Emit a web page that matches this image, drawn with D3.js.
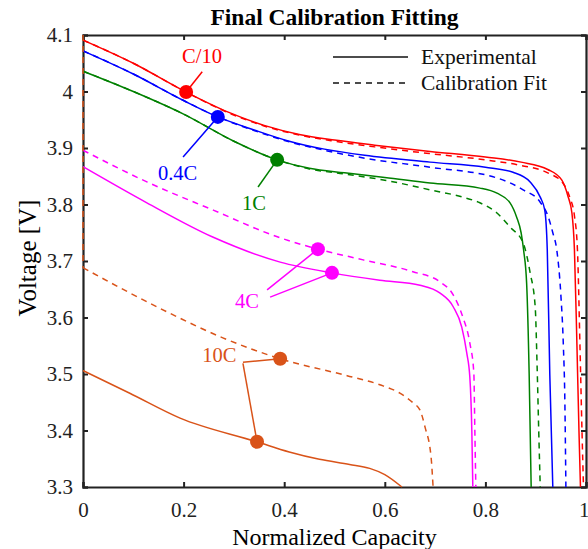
<!DOCTYPE html>
<html>
<head>
<meta charset="utf-8">
<script src="https://cdn.jsdelivr.net/npm/d3@7"></script>
<style>
  html, body { margin: 0; padding: 0; background: #fff; }
  text { font-family: "Liberation Serif", "Times New Roman", serif; }
</style>
</head>
<body>
<div id="chart"></div>
<script>
// ---- data: [normalized capacity, voltage]
const xTicks = [0, 0.2, 0.4, 0.6, 0.8, 1];
const yTicks = [3.3, 3.4, 3.5, 3.6, 3.7, 3.8, 3.9, 4.0, 4.1];

const c10Exp = [[0,4.091],[0.1,4.050],[0.205,3.999],[0.29,3.963],[0.36,3.940],[0.43,3.924],[0.5,3.914],[0.58,3.905],[0.69,3.894],[0.8,3.884],[0.871,3.875],[0.924,3.862],[0.952,3.843],[0.964,3.815],[0.972,3.785],[0.977,3.72],[0.982,3.55],[0.986,3.4],[0.989,3.3]];
const c10Fit = [[0,4.091],[0.1,4.050],[0.205,3.999],[0.29,3.962],[0.36,3.939],[0.43,3.923],[0.5,3.912],[0.58,3.902],[0.69,3.89],[0.8,3.879],[0.871,3.869],[0.924,3.856],[0.954,3.838],[0.968,3.812],[0.977,3.78],[0.983,3.72],[0.988,3.55],[0.992,3.4],[0.995,3.3]];
const c04Exp = [[0,4.072],[0.1,4.031],[0.2,3.984],[0.268,3.955],[0.34,3.932],[0.41,3.912],[0.48,3.898],[0.56,3.887],[0.69,3.875],[0.8,3.866],[0.855,3.857],[0.889,3.840],[0.909,3.813],[0.918,3.79],[0.923,3.72],[0.928,3.5],[0.934,3.3]];
const c04Fit = [[0,4.072],[0.1,4.031],[0.2,3.984],[0.268,3.955],[0.34,3.931],[0.41,3.911],[0.48,3.896],[0.56,3.882],[0.69,3.866],[0.823,3.847],[0.875,3.826],[0.909,3.804],[0.925,3.778],[0.934,3.75],[0.942,3.719],[0.95,3.64],[0.955,3.55],[0.958,3.45],[0.96,3.3]];
const c1Exp = [[0,4.036],[0.1,4.0],[0.2,3.96],[0.3,3.912],[0.386,3.879],[0.45,3.864],[0.52,3.856],[0.6,3.848],[0.69,3.838],[0.789,3.829],[0.823,3.82],[0.849,3.803],[0.862,3.778],[0.871,3.75],[0.876,3.719],[0.882,3.66],[0.887,3.5],[0.891,3.3]];
const c1Fit = [[0,4.036],[0.1,4.0],[0.2,3.96],[0.3,3.912],[0.386,3.879],[0.45,3.863],[0.52,3.854],[0.6,3.843],[0.69,3.826],[0.755,3.813],[0.789,3.803],[0.823,3.785],[0.849,3.76],[0.875,3.732],[0.889,3.679],[0.899,3.619],[0.903,3.507],[0.906,3.4],[0.909,3.3]];
const c4Exp = [[0,3.867],[0.127,3.803],[0.259,3.742],[0.392,3.698],[0.495,3.679],[0.59,3.666],[0.67,3.657],[0.71,3.643],[0.736,3.619],[0.753,3.583],[0.763,3.537],[0.769,3.495],[0.773,3.4],[0.775,3.3]];
const c4Fit = [[0,3.896],[0.127,3.84],[0.259,3.79],[0.392,3.741],[0.467,3.721],[0.557,3.702],[0.656,3.681],[0.71,3.663],[0.736,3.64],[0.755,3.601],[0.769,3.555],[0.777,3.502],[0.779,3.4],[0.781,3.3]];
const c10CExp = [[0,3.506],[0.093,3.466],[0.193,3.422],[0.346,3.38],[0.41,3.362],[0.47,3.349],[0.53,3.34],[0.57,3.333],[0.6,3.322],[0.634,3.3]];
// the fit starts with a drop along the y axis
const c10CFit = [[0,4.1],[0,3.688],[0.167,3.61],[0.278,3.564],[0.392,3.527],[0.525,3.497],[0.59,3.481],[0.63,3.466],[0.656,3.449],[0.67,3.436],[0.68,3.406],[0.692,3.353],[0.696,3.3]];

const series = [
  { rate: 'C/10', color: '#ff0000', exp: c10Exp, fit: c10Fit },
  { rate: '0.4C', color: '#0000ff', exp: c04Exp, fit: c04Fit },
  { rate: '1C', color: '#008000', exp: c1Exp, fit: c1Fit },
  { rate: '4C', color: '#ff00ff', exp: c4Exp, fit: c4Fit },
  { rate: '10C', color: '#d95319', exp: c10CExp, fit: c10CFit }
];

// marker points and label anchors, in [capacity, voltage]
const markers = [
  { color: '#ff0000', pts: [[0.205,3.999]], label: 'C/10', at: [0.197,4.05], from: [[0.237,4.035]] },
  { color: '#0000ff', pts: [[0.268,3.955]], label: '0.4C', at: [0.149,3.843], from: [[0.199,3.884]] },
  { color: '#008000', pts: [[0.386,3.879]], label: '1C', at: [0.316,3.79], from: [[0.348,3.831]] },
  { color: '#ff00ff', pts: [[0.467,3.721],[0.495,3.679]], label: '4C', at: [0.302,3.617], from: [[0.366,3.649],[0.372,3.636]] },
  { color: '#d95319', pts: [[0.392,3.527],[0.346,3.38]], label: '10C', at: [0.237,3.521], from: [[0.318,3.521],[0.318,3.519]] }
];

const totalWidth = 588, totalHeight = 549;
const margin = {top: 35, right: 2, bottom: 62, left: 83};
const width = totalWidth - margin.left - margin.right,
      height = totalHeight - margin.top - margin.bottom;

const svg = d3.select('#chart').append('svg')
  .attr('width', totalWidth)
  .attr('height', totalHeight);

const g = svg.append('g')
  .attr('transform', `translate(${margin.left}, ${margin.top})`);

const x = d3.scaleLinear().domain([0, 1]).range([0, width]);
const y = d3.scaleLinear().domain([3.3, 4.1]).range([height, 0]);

// axes, ticks pointing inward on all four sides
const fmt = d => String(+d.toFixed(1));
g.append('g').attr('class', 'x-axis').attr('transform', `translate(0, ${height})`)
  .call(d3.axisBottom(x).tickValues(xTicks).tickFormat(fmt).tickSize(-5).tickPadding(15));
g.append('g')
  .call(d3.axisLeft(y).tickValues(yTicks).tickFormat(fmt).tickSize(-5).tickPadding(10));
g.append('g')
  .call(d3.axisTop(x).tickValues(xTicks).tickFormat('').tickSize(-5));
g.append('g').attr('transform', `translate(${width}, 0)`)
  .call(d3.axisRight(y).tickValues(yTicks).tickFormat('').tickSize(-5));

g.selectAll('.domain').attr('stroke', '#222').attr('stroke-width', 2.2);
g.selectAll('.tick line').attr('stroke', '#222').attr('stroke-width', 2);
g.selectAll('.tick text').attr('fill', '#222').style('font-size', '21px')
  .style('font-family', '"Liberation Serif", serif');
// the last x label sits at the window edge; keep it inside
g.selectAll('.x-axis .tick text').filter(d => d === 1)
  .attr('text-anchor', 'end').attr('dx', 3);

// curves: smooth monotone lines, a straight piece where x repeats
const smooth = d3.line()
  .x(d => x(d[0]))
  .y(d => y(d[1]))
  .curve(d3.curveMonotoneX);
const straight = d3.line()
  .x(d => x(d[0]))
  .y(d => y(d[1]));

function drawCurve(data, color, dashed) {
  let rest = data;
  const parts = [];
  if (data.length > 2 && data[0][0] === data[1][0]) {
    parts.push(straight(data.slice(0, 2)));
    rest = data.slice(1);
  }
  parts.push(smooth(rest));
  const p = g.append('path')
    .attr('d', parts.join(''))
    .attr('fill', 'none').attr('stroke', color).attr('stroke-width', 1.5);
  if (dashed) p.attr('stroke-dasharray', '6,5');
}

series.forEach(s => {
  drawCurve(s.exp, s.color, false);
  drawCurve(s.fit, s.color, true);
});

// annotation markers and leader lines
markers.forEach(m => {
  m.pts.forEach((p, i) => {
    const f = m.from[i] || m.from[0];
    g.append('line')
      .attr('x1', x(f[0])).attr('y1', y(f[1]))
      .attr('x2', x(p[0])).attr('y2', y(p[1]))
      .attr('stroke', m.color).attr('stroke-width', 1.5);
  });
  m.pts.forEach(p => {
    g.append('circle')
      .attr('cx', x(p[0])).attr('cy', y(p[1])).attr('r', 7)
      .attr('fill', m.color);
  });
  g.append('text')
    .attr('x', x(m.at[0])).attr('y', y(m.at[1]))
    .attr('fill', m.color)
    .style('font-size', '20.5px')
    .text(m.label);
});

// legend
const legend = svg.append('g');
legend.append('line').attr('x1', 333).attr('x2', 408).attr('y1', 57).attr('y2', 57)
  .attr('stroke', '#111').attr('stroke-width', 1.3);
legend.append('line').attr('x1', 333).attr('x2', 408).attr('y1', 83).attr('y2', 83)
  .attr('stroke', '#111').attr('stroke-width', 1.3).attr('stroke-dasharray', '6,5');
legend.append('text').attr('x', 421).attr('y', 64).style('font-size', '21.5px').attr('fill', '#111')
  .text('Experimental');
legend.append('text').attr('x', 421).attr('y', 90).style('font-size', '21.5px').attr('fill', '#111')
  .text('Calibration Fit');

// title and axis labels
svg.append('text')
  .attr('x', margin.left + width / 2).attr('y', 25)
  .attr('text-anchor', 'middle')
  .style('font-size', '23.5px').style('font-weight', 'bold')
  .text('Final Calibration Fitting');

svg.append('text')
  .attr('x', margin.left + width / 2).attr('y', 545)
  .attr('text-anchor', 'middle')
  .style('font-size', '24px')
  .text('Normalized Capacity');

svg.append('text')
  .attr('transform', `translate(36, ${margin.top + height / 2 - 3}) rotate(-90)`)
  .attr('text-anchor', 'middle')
  .style('font-size', '25px')
  .text('Voltage [V]');
</script>
</body>
</html>
